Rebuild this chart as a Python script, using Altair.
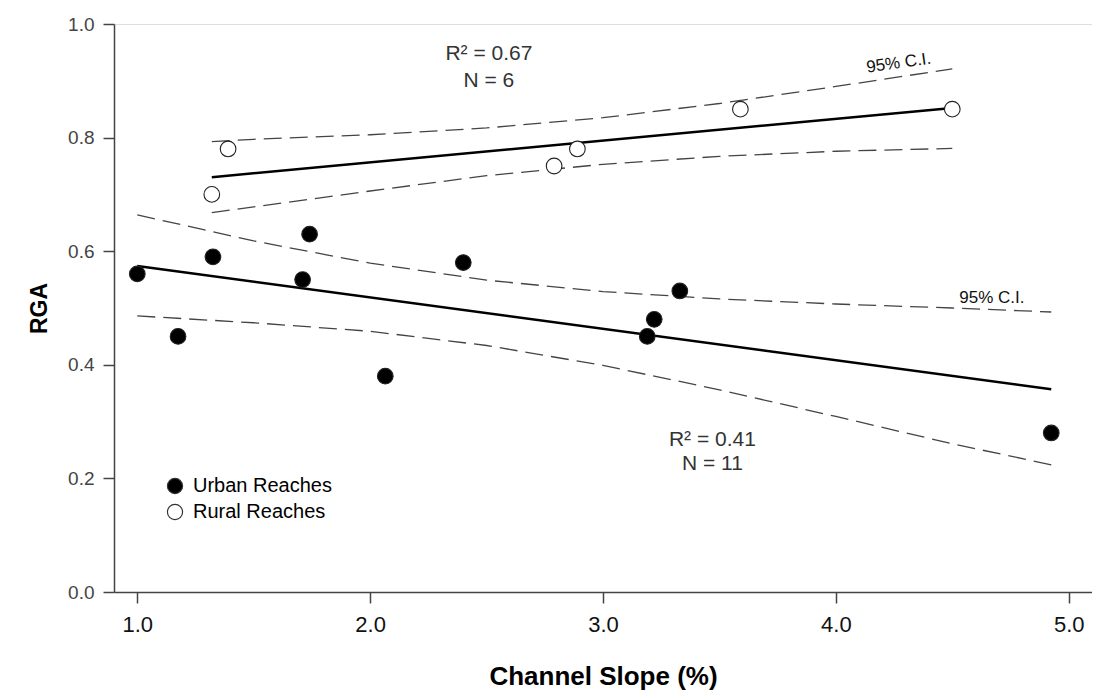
import altair as alt
import pandas as pd

# ---- data ----
urban_x = [1.00, 1.175, 1.325, 1.71, 1.74, 2.065, 2.40, 3.19, 3.22, 3.33, 4.925]
urban_y = [0.56, 0.45, 0.59, 0.55, 0.63, 0.38, 0.58, 0.45, 0.48, 0.53, 0.28]

rural_x = [1.32, 1.39, 2.79, 2.89, 3.59, 4.50]
rural_y = [0.70, 0.78, 0.75, 0.78, 0.85, 0.85]

urban_ci_x = [1.0, 1.5, 2.0, 2.5, 3.0, 3.5, 4.0, 4.5, 4.925]
urban_ci_upper = [0.664, 0.618, 0.579, 0.549, 0.529, 0.516, 0.507, 0.500, 0.493]
urban_ci_lower = [0.486, 0.474, 0.459, 0.434, 0.399, 0.356, 0.309, 0.261, 0.224]

rural_ci_x = [1.32, 1.5, 2.0, 2.5, 3.0, 3.5, 4.0, 4.5]
rural_ci_upper = [0.793, 0.797, 0.805, 0.817, 0.835, 0.860, 0.890, 0.921]
rural_ci_lower = [0.668, 0.678, 0.706, 0.733, 0.753, 0.767, 0.776, 0.781]

groups = ["Urban Reaches", "Rural Reaches"]
x_ticks = [1.0, 2.0, 3.0, 4.0, 5.0]
y_ticks = [0.0, 0.2, 0.4, 0.6, 0.8, 1.0]

# ---- tables ----
urban = pd.DataFrame({"x": urban_x, "y": urban_y, "group": groups[0]})
rural = pd.DataFrame({"x": rural_x, "y": rural_y, "group": groups[1]})
points = pd.concat([urban, rural], ignore_index=True)

ci_rows = []
for gx, up, lo, g in [(urban_ci_x, urban_ci_upper, urban_ci_lower, "urban"),
                      (rural_ci_x, rural_ci_upper, rural_ci_lower, "rural")]:
    for xv, yv in zip(gx, up):
        ci_rows.append({"x": xv, "y": yv, "band": g + "_upper"})
    for xv, yv in zip(gx, lo):
        ci_rows.append({"x": xv, "y": yv, "band": g + "_lower"})
ci = pd.DataFrame(ci_rows)

FONT = "Liberation Sans"
GREY = "#444444"

xscale = alt.Scale(domain=[0.9, 5.1], nice=False, zero=False)
yscale = alt.Scale(domain=[0.0, 1.0], nice=False, zero=False)

xaxis = alt.Axis(title="Channel Slope  (%)", values=x_ticks, format=".1f",
                 tickSize=11, tickWidth=1.5, tickColor=GREY,
                 domainColor=GREY, domainWidth=1.5, grid=False,
                 labelFont="Liberation Sans Narrow, Liberation Sans", labelFontSize=22,
                 labelColor="#111111", labelPadding=11, labelFlush=False,
                 titleFont=FONT, titleFontSize=26, titleFontWeight="bold",
                 titleColor="#000000", titlePadding=28)
yaxis = alt.Axis(title="RGA", values=y_ticks, format=".1f",
                 tickSize=11, tickWidth=1.5, tickColor=GREY,
                 domainColor=GREY, domainWidth=1.5, grid=False,
                 labelFont=FONT, labelFontSize=19, labelColor="#444444",
                 labelPadding=9, titleFont=FONT, titleFontSize=23,
                 titleFontWeight="bold", titleColor="#000000", titlePadding=16)

X = alt.X("x:Q", scale=xscale, axis=xaxis)
Y = alt.Y("y:Q", scale=yscale, axis=yaxis)

ci_layer = alt.Chart(ci).mark_line(color=GREY, strokeWidth=1.3, strokeDash=[18, 8]).encode(
    x=alt.X("x:Q", scale=xscale), y=alt.Y("y:Q", scale=yscale), detail="band:N")

fit_urban = alt.Chart(urban).transform_regression("x", "y").mark_line(
    color="black", strokeWidth=2.6).encode(x=alt.X("x:Q", scale=xscale), y=alt.Y("y:Q", scale=yscale))
fit_rural = alt.Chart(rural).transform_regression("x", "y").mark_line(
    color="black", strokeWidth=2.6).encode(x=alt.X("x:Q", scale=xscale), y=alt.Y("y:Q", scale=yscale))

pts = alt.Chart(points).mark_point(shape="circle", filled=True, size=245, stroke="#222222",
                                   strokeWidth=1.1, opacity=1).encode(
    x=X, y=Y,
    fill=alt.Fill("group:N",
                  scale=alt.Scale(domain=groups, range=["#000000", "#ffffff"]),
                  legend=alt.Legend(title=None, orient="none", legendX=51, legendY=452,
                                    labelFont=FONT, labelFontSize=20, labelColor="#000000",
                                    symbolType="circle", symbolSize=230,
                                    symbolStrokeColor="#333333", symbolStrokeWidth=1.2,
                                    labelOffset=8, rowPadding=6, padding=0)),
)


def note(text, xv, yv, size, angle=0, color="#333333"):
    return alt.Chart(pd.DataFrame({"t": [text]})).mark_text(
        font=FONT, fontSize=size, color=color, align="center", baseline="middle",
        angle=angle).encode(x=alt.datum(xv), y=alt.datum(yv), text="t:N")


notes = [
    note("R² = 0.67", 2.51, 0.948, 21),
    note("N = 6", 2.51, 0.90, 21),
    note("R² = 0.41", 3.47, 0.268, 21),
    note("N = 11", 3.47, 0.226, 21),
    note("95% C.I.", 4.67, 0.518, 17, color="#111111"),
    note("95% C.I.", 4.27, 0.931, 17, angle=352, color="#111111"),
]

chart = alt.layer(ci_layer, fit_urban, fit_rural, pts, *notes).properties(
    width=978, height=568,
    autosize=alt.AutoSizeParams(type="none"),
    padding={"left": 106, "top": 16, "right": 0, "bottom": 98},
).configure_view(stroke=GREY, strokeWidth=1.5).configure(background="white")

chart.save("out.html", embed_options={"renderer": "svg", "actions": False})
